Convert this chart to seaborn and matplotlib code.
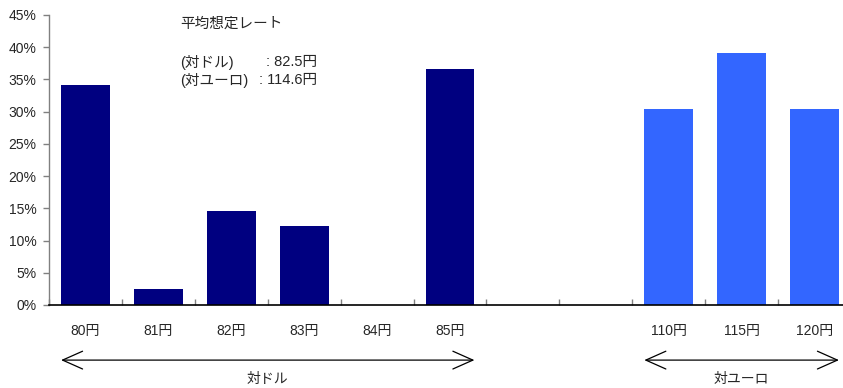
import matplotlib
matplotlib.use("Agg")
import matplotlib.pyplot as plt
import matplotlib.transforms as mtransforms
from matplotlib.ticker import FixedLocator, PercentFormatter
import numpy as np
import pandas as pd
import seaborn as sns

# ---- data ----
categories = ["80円", "81円", "82円", "83円", "84円", "85円", "gap1", "gap2", "110円", "115円", "120円"]
tick_labels = ["80円", "81円", "82円", "83円", "84円", "85円", "", "", "110円", "115円", "120円"]
shares = [0.342, 0.025, 0.146, 0.123, 0.0, 0.366, np.nan, np.nan, 0.304, 0.391, 0.304]
groups = ["対ドル"] * 6 + ["gap", "gap"] + ["対ユーロ"] * 3
palette = {"対ドル": "#000080", "gap": "#ffffff", "対ユーロ": "#3366FF"}
y_ticks = [0, 0.05, 0.10, 0.15, 0.20, 0.25, 0.30, 0.35, 0.40, 0.45]
note_title = "平均想定レート"
note_rows = [("(対ドル)", ": 82.5円", 266, 62), ("(対ユーロ)", ": 114.6円", 259, 80)]
group_spans = [("対ドル", 0, 5), ("対ユーロ", 8, 10)]

df = pd.DataFrame({"cat": categories, "share": shares, "group": groups})

sns.set_style("white")
plt.rcParams["font.family"] = ["Liberation Sans", "Noto Sans CJK JP", "DejaVu Sans"]

fig = plt.figure(figsize=(8.43, 3.88), dpi=100)
W, H = 843, 388
ax = fig.add_axes([49 / W, 1 - 305 / H, (851 - 49) / W, (305 - 15) / H])

sns.barplot(data=df, x="cat", y="share", hue="group", order=categories,
            palette=palette, dodge=False, width=0.67, legend=False,
            saturation=1, ax=ax, linewidth=0)

ax.set_xlim(-0.5, len(categories) - 0.5)
ax.set_ylim(0, 0.45)
ax.yaxis.set_major_locator(FixedLocator(y_ticks))
ax.yaxis.set_major_formatter(PercentFormatter(1.0, decimals=0))
ax.set_xlabel("")
ax.set_ylabel("")

# x labels at centres, tick marks at boundaries
ax.set_xticks(range(len(categories)))
ax.set_xticklabels(tick_labels)
ax.set_xticks(np.arange(-0.5, len(categories), 1.0), minor=True)
ax.tick_params(axis="x", which="major", length=0, pad=14, labelsize=10, bottom=True)
ax.tick_params(axis="x", which="minor", length=4, width=1, color="#808080",
               direction="in", bottom=True)
ax.tick_params(axis="y", which="major", length=4, width=1, color="#808080",
               direction="out", labelsize=10, pad=5, left=True)

for s in ["top", "right"]:
    ax.spines[s].set_visible(False)
ax.spines["left"].set_color("#808080")
ax.spines["bottom"].set_color("#000000")
ax.spines["left"].set_linewidth(1)
ax.spines["bottom"].set_linewidth(1.2)

def fig_px(x, y):
    return (x / W, 1 - y / H)

# note text
fig.text(*fig_px(180, 24), note_title, fontsize=10.5, va="center", ha="left")
for lab, val, xc, y in note_rows:
    fig.text(*fig_px(180, y), lab, fontsize=10.5, va="center", ha="left")
    fig.text(*fig_px(xc, y), val, fontsize=10.5, va="center", ha="left")

# group arrows and labels
blend = mtransforms.blended_transform_factory(ax.transData, ax.transAxes)
half = 0.67 / 2
for name, i0, i1 in group_spans:
    x0, x1 = i0 - half, i1 + half
    ax.annotate("", xy=(x0, -0.19), xytext=(x1, -0.19), xycoords=blend, textcoords=blend,
                arrowprops=dict(arrowstyle="<->,head_length=0.9,head_width=0.4",
                                lw=0.9, color="black",
                                mutation_scale=16, shrinkA=0, shrinkB=0),
                annotation_clip=False)
    ax.text((x0 + x1) / 2, -0.255, name, transform=blend, ha="center", va="center",
            fontsize=10)

fig.savefig("out.png", dpi=100)
